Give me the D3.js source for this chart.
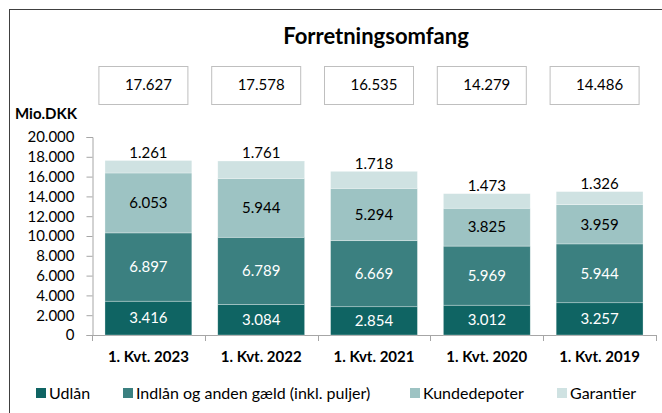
<!DOCTYPE html>
<html>
<head>
<meta charset="utf-8">
<script src="https://cdn.jsdelivr.net/npm/d3@7"></script>
<style>
  html, body { margin: 0; padding: 0; background: #fff; }
  svg { display: block; font-family: Lato, "Open Sans", sans-serif; }
</style>
</head>
<body>
<div id="chart"></div>
<script>
// ---- data ----
const categories = ['1. Kvt. 2023', '1. Kvt. 2022', '1. Kvt. 2021', '1. Kvt. 2020', '1. Kvt. 2019'];
const udlaan = [3416, 3084, 2854, 3012, 3257];
const indlaan = [6897, 6789, 6669, 5969, 5944];
const kundedepoter = [6053, 5944, 5294, 3825, 3959];
const garantier = [1261, 1761, 1718, 1473, 1326];
const totals = [17627, 17578, 16535, 14279, 14486];
const yTicks = [0, 2000, 4000, 6000, 8000, 10000, 12000, 14000, 16000, 18000, 20000];

const seriesNames = ['Udlån', 'Indlån og anden gæld (inkl. puljer)', 'Kundedepoter', 'Garantier'];
const seriesValues = [udlaan, indlaan, kundedepoter, garantier];
const colors = ['#0f6463', '#3b8080', '#9dc3c3', '#cfe2e2'];
const labelColors = ['#fff', '#fff', '#000', '#000'];

// ---- setup ----
const width = 662, height = 413;
const dk = d3.formatLocale({ decimal: ',', thousands: '.', grouping: [3], currency: ['', ''] });
const fmt = dk.format(',d');

const svg = d3.select('#chart').append('svg')
  .attr('width', width).attr('height', height);

svg.append('rect').attr('width', width).attr('height', height).attr('fill', '#fff');

// outer chart frame (clipped at right/bottom like the source)
svg.append('rect')
  .attr('x', 9.5).attr('y', 9.5)
  .attr('width', 700).attr('height', 500)
  .attr('fill', 'none').attr('stroke', '#404040').attr('stroke-width', 1);

const x = d3.scaleBand()
  .domain(categories)
  .range([92, 656])
  .paddingInner(0.23)
  .paddingOuter(0.115);

const y = d3.scaleLinear().domain([0, 20000]).range([335, 137]);

// stacked rows
const rows = categories.map((c, i) => {
  const r = { cat: c };
  seriesNames.forEach((s, j) => { r[s] = seriesValues[j][i]; });
  return r;
});
const stack = d3.stack().keys(seriesNames)(rows);

// title
svg.append('text')
  .attr('x', 376).attr('y', 44)
  .attr('text-anchor', 'middle')
  .attr('font-size', 22).attr('font-weight', 700)
  .attr('fill', '#000')
  .text('Forretningsomfang');

// total boxes
const boxes = svg.append('g');
categories.forEach((c, i) => {
  const cx = x(c) + x.bandwidth() / 2;
  boxes.append('rect')
    .attr('x', cx - 49.5).attr('y', 66.5)
    .attr('width', 89).attr('height', 38)
    .attr('fill', '#fff').attr('stroke', '#bfbfbf');
  boxes.append('text')
    .attr('x', cx).attr('y', 90)
    .attr('text-anchor', 'middle')
    .attr('font-size', 15).attr('fill', '#000')
    .text(fmt(totals[i]));
});

// unit label
svg.append('text')
  .attr('x', 15).attr('y', 119)
  .attr('font-size', 15).attr('font-weight', 700)
  .text('Mio.DKK');

// y axis
const yAxis = svg.append('g')
  .attr('transform', 'translate(92.5,0)')
  .call(d3.axisLeft(y).tickValues(yTicks).tickSize(6).tickPadding(12).tickFormat(fmt));
yAxis.selectAll('path, line').attr('stroke', '#a6a6a6');
yAxis.selectAll('text').attr('font-size', 15).attr('fill', '#000')
  .attr('font-family', 'Lato, "Open Sans", sans-serif');

// x axis line + tick marks between categories
const xa = svg.append('g');
xa.append('line')
  .attr('x1', x.range()[0]).attr('x2', x.range()[1])
  .attr('y1', y(0) + 0.5).attr('y2', y(0) + 0.5)
  .attr('stroke', '#a6a6a6');
const bounds = [x.range()[0]].concat(categories.map(c => x(c) + x.bandwidth() + x.step() * x.paddingInner() / 2));
bounds[bounds.length - 1] = x.range()[1];
xa.selectAll('line.tick').data(bounds).join('line')
  .attr('class', 'tick')
  .attr('x1', d => Math.round(d) + 0.5).attr('x2', d => Math.round(d) + 0.5)
  .attr('y1', y(0)).attr('y2', y(0) + 6)
  .attr('stroke', '#a6a6a6');
xa.selectAll('text').data(categories).join('text')
  .attr('x', d => x(d) + x.bandwidth() / 2)
  .attr('y', 362)
  .attr('text-anchor', 'middle')
  .attr('font-size', 15).attr('font-weight', 700)
  .text(d => d);

// bars
const layers = svg.append('g').selectAll('g').data(stack).join('g')
  .attr('fill', (d, i) => colors[i]);

layers.selectAll('rect').data(d => d).join('rect')
  .attr('x', d => x(d.data.cat))
  .attr('width', x.bandwidth())
  .attr('y', d => y(d[1]))
  .attr('height', d => y(d[0]) - y(d[1]))
  .attr('stroke', '#fff').attr('stroke-width', 0.6).attr('stroke-opacity', 0.5);

// segment labels
stack.forEach((layer, i) => {
  svg.append('g').selectAll('text').data(layer).join('text')
    .attr('x', d => x(d.data.cat) + x.bandwidth() / 2)
    .attr('y', d => i === 3 ? y(d[1]) - 8 : y((d[0] + d[1]) / 2))
    .attr('dy', '0.35em')
    .attr('text-anchor', 'middle')
    .attr('font-size', 15)
    .attr('fill', labelColors[i])
    .text(d => fmt(d[1] - d[0]));
});

// legend (item positions as in the source)
const legendX = [36, 123, 410, 557];
const legend = svg.append('g');
seriesNames.forEach((name, i) => {
  legend.append('rect')
    .attr('x', legendX[i]).attr('y', 388)
    .attr('width', 10).attr('height', 10)
    .attr('fill', colors[i]);
  legend.append('text')
    .attr('x', legendX[i] + 13).attr('y', 399)
    .attr('font-size', 16).attr('fill', '#000')
    .text(name);
});
</script>
</body>
</html>
